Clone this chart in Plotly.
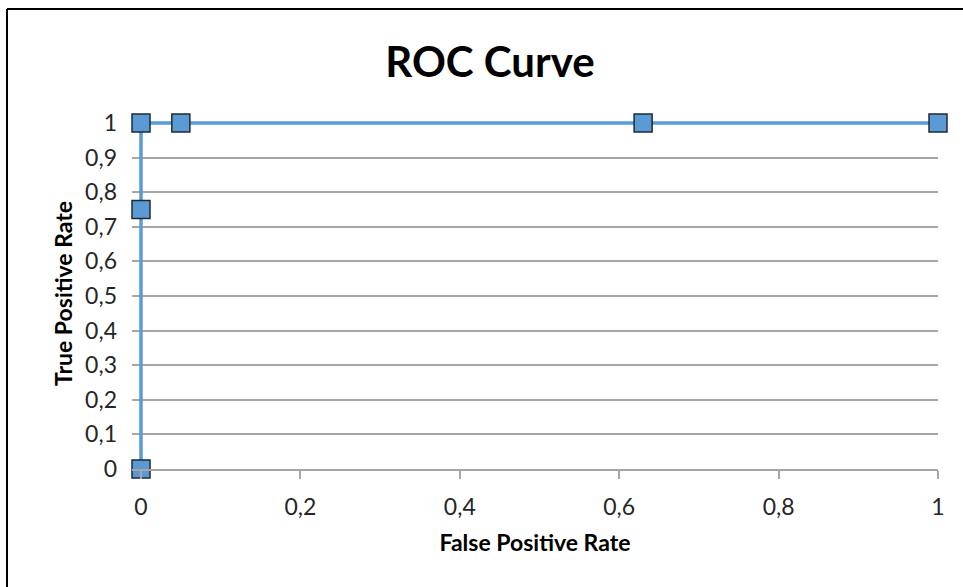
import plotly.graph_objects as go

fpr = [0, 0, 0, 0.05, 0.63, 1]
tpr = [0, 0.75, 1, 1, 1, 1]
title_text = "ROC Curve"
x_title = "False Positive Rate"
y_title = "True Positive Rate"

W, H = 963, 587
# pixel positions of data 0 and 1 on each axis
X0, X1 = 141, 938
Y0, Y1 = 469, 123
PADX, PADY = 9, 5  # extra pixels so the boundary line is not clipped
ux = (X1 - X0)
uy = (Y0 - Y1)
L, R, T, B = X0 - PADX, W - X1, Y1 - PADY, H - Y0
pw, ph = W - L - R, H - T - B
xr = [-PADX / ux, 1]
yr = [0, 1 + PADY / uy]

def px_x(p):
    return (p - L) / pw

def px_y(p):
    return (H - B - p) / ph

FONT = "Lato, Carlito, Calibri, sans-serif"

fig = go.Figure()
fig.add_trace(go.Scatter(
    x=fpr, y=tpr, mode="lines+markers",
    line=dict(color="#5B9BD5", width=3.5),
    marker=dict(symbol="square", size=18, color="#5B9BD5",
                line=dict(color="#1F2A36", width=1.5)),
    cliponaxis=False, showlegend=False,
))

bx, by = px_x(7), px_y(9)
fig.add_shape(type="line", xref="paper", yref="paper",
              x0=bx, x1=bx, y0=px_y(600), y1=by,
              line=dict(color="black", width=2))
fig.add_shape(type="line", xref="paper", yref="paper",
              x0=bx, x1=px_x(980), y0=by, y1=by,
              line=dict(color="black", width=2))

fig.update_layout(
    width=W, height=H,
    margin=dict(l=L, r=R, t=T, b=B),
    paper_bgcolor="white", plot_bgcolor="white",
    separators=",.",
    title=dict(text="<b>" + title_text + "</b>", x=490 / W, xref="container",
               xanchor="center", y=1 - 62 / H, yanchor="middle",
               font=dict(family=FONT, size=42, color="black")),
    xaxis=dict(range=xr, dtick=0.2, tick0=0, showgrid=False,
               zeroline=False, showline=True, linecolor="#A6A6A6", linewidth=1.5,
               ticks="outside", ticklen=8, tickcolor="#A6A6A6", tickwidth=1.5,
               ticklabelstandoff=9,
               tickfont=dict(family=FONT, size=23, color="#262626"),
               title=dict(text="<b>" + x_title + "</b>", standoff=16,
                          font=dict(family=FONT, size=23, color="black"))),
    yaxis=dict(range=yr, dtick=0.1, tick0=0, showgrid=True,
               gridcolor="#A6A6A6", gridwidth=1.5, zeroline=False,
               showline=False, ticks="", ticklabelstandoff=14,
               tickfont=dict(family=FONT, size=23, color="#262626"),
               title=dict(text="<b>" + y_title + "</b>", standoff=6,
                          font=dict(family=FONT, size=23, color="black"))),
)

fig.write_html("out.html", config={"displayModeBar": False},
               post_script="document.body.style.margin='0';document.body.style.overflow='hidden';")
